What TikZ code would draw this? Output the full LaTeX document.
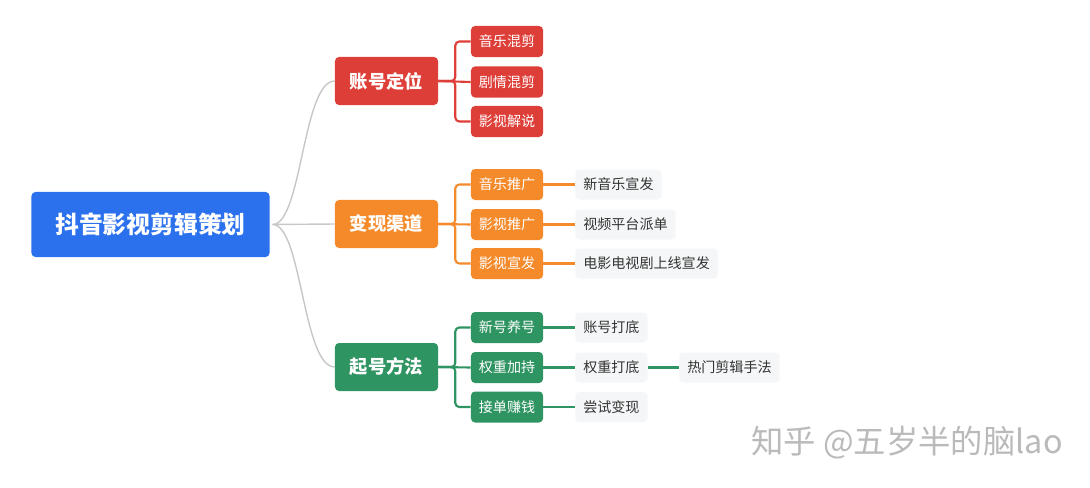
\documentclass[tikz,border=0pt]{standalone}
\usepackage{fontspec}
\usepackage{xcolor}
\usepackage{tikz}
\newfontfamily\cjk{Noto Sans CJK SC}
\definecolor{rootblue}{HTML}{2B71EE}
\definecolor{accred}{HTML}{DE3E38}
\definecolor{payorange}{HTML}{F58A2B}
\definecolor{startgreen}{HTML}{2E9461}
\definecolor{leafgray}{HTML}{F5F6F7}
\definecolor{leaftext}{HTML}{333333}
\tikzset{
    rootbox/.style={rectangle, rounded corners=0.1cm, fill=rootblue, text=white, minimum width=5.95cm, minimum height=1.625cm, font=\cjk\bfseries\fontsize{16.9}{18}\selectfont},
    mainbox/.style={rectangle, rounded corners=0.1cm, fill=#1, text=white, minimum width=2.575cm, minimum height=1.2cm, font=\cjk\bfseries\fontsize{13}{15}\selectfont},
    subbox/.style={rectangle, rounded corners=0.1cm, fill=#1, text=white, minimum width=1.8cm, minimum height=0.775cm, inner sep=0pt, font=\cjk\fontsize{10}{12}\selectfont},
    leafbox/.style={rectangle, rounded corners=0.1cm, fill=leafgray, text=leaftext, minimum height=0.75cm, inner xsep=0.2cm, anchor=west, font=\cjk\fontsize{10}{12}\selectfont},
    curveline/.style={draw=black!22, line width=1pt, shorten <=2pt},
    elbow/.style={draw=#1, line width=1.5pt, rounded corners=0.1cm}
}
\begin{document}
\begin{tikzpicture}[x=0.025cm, y=-0.025cm]
\useasboundingbox (0,0) rectangle (1090,487);

\node[rootbox] (r0) at (150.5,224.5) {抖音影视剪辑策划};

\node[mainbox=accred] (a1) at (386.5,81) {账号定位};
\node[mainbox=payorange] (a2) at (386.5,224) {变现渠道};
\node[mainbox=startgreen] (a3) at (386.5,367) {起号方法};

\draw[curveline] (r0.east) .. controls +(32,0) and +(-32,0) .. (a1.west);
\draw[curveline] (r0.east) -- (a2.west);
\draw[curveline] (r0.east) .. controls +(32,0) and +(-32,0) .. (a3.west);

% first branch
\node[subbox=accred] (b1) at (507,41.5) {音乐混剪};
\node[subbox=accred] (b2) at (507,82) {剧情混剪};
\node[subbox=accred] (b3) at (507,121.5) {影视解说};
\draw[elbow=accred] (a1.east) -- +(17,0) |- (b1.west);
\draw[elbow=accred] (a1.east) -- (b2.west);
\draw[elbow=accred] (a1.east) -- +(17,0) |- (b3.west);

% second branch
\node[subbox=payorange] (b4) at (507,184.5) {音乐推广};
\node[subbox=payorange] (b5) at (507,224.5) {影视推广};
\node[subbox=payorange] (b6) at (507,263.5) {影视宣发};
\draw[elbow=payorange] (a2.east) -- +(17,0) |- (b4.west);
\draw[elbow=payorange] (a2.east) -- (b5.west);
\draw[elbow=payorange] (a2.east) -- +(17,0) |- (b6.west);

\node[leafbox] (c1) at (575,184.5) {新音乐宣发};
\node[leafbox] (c2) at (575,224.5) {视频平台派单};
\node[leafbox] (c3) at (575,263.5) {电影电视剧上线宣发};
\draw[elbow=payorange] (b4.east) -- (c1.west);
\draw[elbow=payorange] (b5.east) -- (c2.west);
\draw[elbow=payorange] (b6.east) -- (c3.west);

% third branch
\node[subbox=startgreen] (b7) at (507,327.5) {新号养号};
\node[subbox=startgreen] (b8) at (507,367.5) {权重加持};
\node[subbox=startgreen] (b9) at (507,407) {接单赚钱};
\draw[elbow=startgreen] (a3.east) -- +(17,0) |- (b7.west);
\draw[elbow=startgreen] (a3.east) -- (b8.west);
\draw[elbow=startgreen] (a3.east) -- +(17,0) |- (b9.west);

\node[leafbox] (c4) at (575,327.5) {账号打底};
\node[leafbox] (c5) at (575,367.5) {权重打底};
\node[leafbox] (c6) at (679,367.5) {热门剪辑手法};
\node[leafbox] (c7) at (575,407) {尝试变现};
\draw[elbow=startgreen] (b7.east) -- (c4.west);
\draw[elbow=startgreen] (b8.east) -- (c5.west);
\draw[elbow=startgreen] (c5.east) -- (c6.west);
\draw[elbow=startgreen] (b9.east) -- (c7.west);

\node[text=black!27, font=\cjk\fontsize{23}{27}\selectfont] (w0) at (907,443) {知乎 @五岁半的脑lao};
\end{tikzpicture}
\end{document}
